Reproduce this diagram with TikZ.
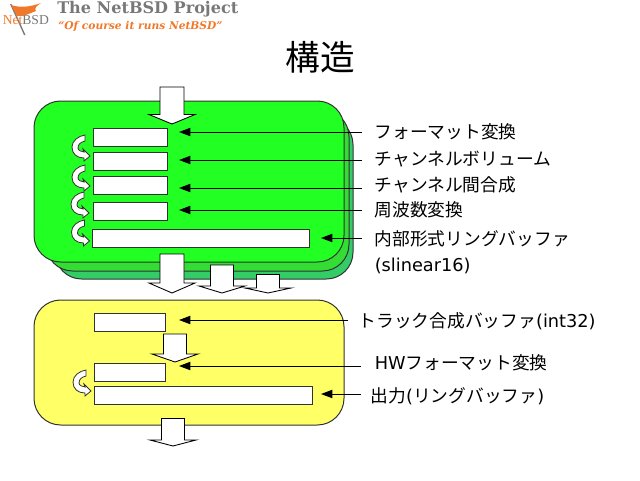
\documentclass[tikz,border=0pt]{standalone}
\usepackage{fontspec}
\setmainfont{DejaVu Sans}
\newfontfamily\cjk{Noto Sans CJK JP}
\newfontfamily\hdr{DejaVu Serif}
\newfontfamily\logof{Liberation Serif}
\usetikzlibrary{arrows.meta}
\definecolor{frontg}{RGB}{34,255,34}
\definecolor{midg}{RGB}{51,221,51}
\definecolor{backg}{RGB}{51,204,102}
\definecolor{yel}{RGB}{255,255,102}
\definecolor{edge}{RGB}{50,50,50}
\definecolor{nbor}{RGB}{240,120,40}
\definecolor{nbgray}{RGB}{120,120,120}
\newcommand{\DownArrow}[6]{% cx shaft-half top headY tip headhalf
  \draw[blockarrow] (#1-#2,#3) -- (#1+#2,#3) -- (#1+#2,#4) -- (#1+#6,#4) -- (#1,#5) -- (#1-#6,#4) -- (#1-#2,#4) -- cycle;}
\newcommand{\Panel}[6]{% name x1 y1 x2 y2 fill
  \draw[draw=edge,line width=0.75pt,fill=#6,rounded corners=20pt] (#2,#3) rectangle (#4,#5) coordinate (#1);}
\tikzset{
  x=0.75pt,y=-0.75pt,
  blockarrow/.style={draw=black,fill=white,line width=0.65pt,line join=miter},
  slot/.style={draw=edge,fill=white,line width=0.75pt},
  lab/.style={anchor=west,inner sep=0pt,font=\cjk\fontsize{13.3}{16}\selectfont,text=black},
  lead/.style={draw=black,line width=0.75pt,-{Triangle[length=8.5pt,width=6.2pt]}},
  loopback/.pic={
    \draw[draw=edge,fill=white,line width=0.6pt,line join=miter]
      (13,0) -- (13,6) .. controls (9,7) and (6,9) .. (6,13)
      .. controls (6,15) and (9,17) .. (12,17) -- (11,14) -- (18,21) -- (12,26) -- (12,23)
      .. controls (5,23) and (0,19) .. (0,12) .. controls (0,6) and (6,1) .. (13,0) -- cycle;
  }
}
\begin{document}
\begin{tikzpicture}
\useasboundingbox (0,0) rectangle (640,480);
% logo
\fill[nbgray] (10,4) -- (11.5,4) -- (25.5,35) -- (24,35) -- cycle;
\fill[nbor] (11,5) .. controls (20,8) and (30,7) .. (41,3) .. controls (36,6) and (34,9) .. (36,11)
  .. controls (30,13) and (24,17) .. (17,16) -- cycle;
\node[anchor=west,inner sep=0pt,font=\logof\fontsize{10.2}{12}\selectfont] (nb) at (2.5,20.5) {\textcolor{nbor}{Net}\textcolor{nbgray}{BSD}};
\node[anchor=west,inner sep=0pt,font=\hdr\bfseries\fontsize{12.05}{14}\selectfont,text=nbgray] (hd) at (57,9) {The NetBSD Project};
\node[anchor=west,inner sep=0pt,font=\hdr\bfseries\itshape\fontsize{8}{10}\selectfont,text=nbor] (tg) at (58,26) {“Of course it runs NetBSD”};
% title
\node[inner sep=0pt,font=\cjk\fontsize{26}{30}\selectfont] (title) at (320,57) {構造};
% panels
\Panel{pb}{55}{118}{353}{279}{backg}
\Panel{pm}{46}{110}{349}{271}{midg}
\Panel{pf}{34}{101}{344}{262}{frontg}
\Panel{py}{34}{300}{344}{425}{yel}
% slots
\node[slot,minimum width=55.5pt,minimum height=13.5pt,inner sep=0pt] (a1) at (130.5,137) {};
\node[slot,minimum width=55.5pt,minimum height=13.5pt,inner sep=0pt] (a2) at (130.5,161) {};
\node[slot,minimum width=55.5pt,minimum height=13.5pt,inner sep=0pt] (a3) at (130.5,185.5) {};
\node[slot,minimum width=55.5pt,minimum height=13.5pt,inner sep=0pt] (a4) at (130.5,211) {};
\node[slot,minimum width=162.75pt,minimum height=13.5pt,inner sep=0pt] (a5) at (200.5,238) {};
\node[slot,minimum width=53.25pt,minimum height=13.5pt,inner sep=0pt] (b1) at (129.5,322) {};
\node[slot,minimum width=53.25pt,minimum height=13.5pt,inner sep=0pt] (b2) at (129.5,372.5) {};
\node[slot,minimum width=163.5pt,minimum height=13.5pt,inner sep=0pt] (b3) at (203,395.5) {};
% loop arrows
\pic[x=0.75pt,y=-0.75pt] at (72,135) {loopback};
\pic[x=0.75pt,y=-0.75pt] at (72,165) {loopback};
\pic[x=0.75pt,y=-0.75pt] at (71,192) {loopback};
\pic[x=0.75pt,y=-0.75pt] at (71.5,220) {loopback};
\pic[x=0.75pt,y=-0.75pt] at (73,370) {loopback};
% block arrows
\DownArrow{172}{12}{87}{114.5}{124}{23}
\DownArrow{268}{11.5}{274.5}{288}{293}{23}
\DownArrow{222}{11.5}{265}{286}{293}{23}
\DownArrow{172}{12}{254}{283}{293}{23}
\DownArrow{175}{11.5}{334}{354}{362}{23}
\DownArrow{173}{11.5}{418.5}{440}{446}{23}
% labels
\node[lab] (l1) at (374.5,131.5) {フォーマット変換};
\node[lab] (l2) at (374.5,159.5) {チャンネルボリューム};
\node[lab] (l3) at (374.5,184.5) {チャンネル間合成};
\node[lab] (l4) at (374.5,209.5) {周波数変換};
\node[lab] (l5) at (374.5,238.5) {内部形式リングバッファ};
\node[anchor=west,inner sep=0pt,font=\fontsize{13.3}{16}\selectfont] (l6) at (374.5,265.5) {(slinear16)};
\node[lab] (l7) at (358.5,321.5) {トラック合成バッファ{\fontfamily{\rmdefault}\selectfont(int32)}};
\node[lab] (l8) at (374.5,362.5) {{\fontfamily{\rmdefault}\selectfont HW}フォーマット変換};
\node[lab] (l9) at (370.5,396.5) {出力{\fontfamily{\rmdefault}\selectfont(}リングバッファ{\fontfamily{\rmdefault}\selectfont)}};
% leader targets
\coordinate (t1) at (179,132);
\coordinate (t2) at (179,160);
\coordinate (t3) at (179,188);
\coordinate (t4) at (179,210);
\coordinate (t5) at (321,238);
\coordinate (t7) at (179,320);
\coordinate (t8) at (179,366);
\coordinate (t9) at (321,394);
\coordinate (s1) at (362,132);
\coordinate (s2) at (362,160);
\coordinate (s3) at (362,188);
\coordinate (s4) at (362,210);
\coordinate (s5) at (362,238);
\coordinate (s7) at (348,320);
\coordinate (s8) at (361,366);
\coordinate (s9) at (361,394);
\draw[lead] (s1) -- (t1);
\draw[lead] (s2) -- (t2);
\draw[lead] (s3) -- (t3);
\draw[lead] (s4) -- (t4);
\draw[lead] (s5) -- (t5);
\draw[lead] (s7) -- (t7);
\draw[lead] (s8) -- (t8);
\draw[lead] (s9) -- (t9);
\end{tikzpicture}
\end{document}
